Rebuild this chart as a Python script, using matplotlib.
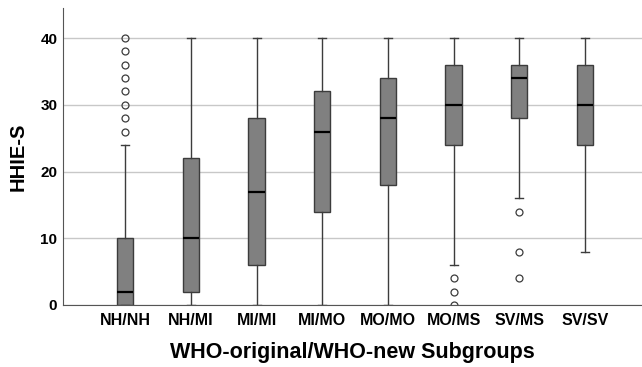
import matplotlib.pyplot as plt

plt.rcParams['font.family'] = ['Liberation Sans', 'DejaVu Sans']

# ============================================================
# DATA
# ============================================================
groups = ["NH/NH", "NH/MI", "MI/MI", "MI/MO", "MO/MO", "MO/MS", "SV/MS", "SV/SV"]
whislo = [0, 0, 0, 0, 0, 6, 16, 8]
q1 = [0, 2, 6, 14, 18, 24, 28, 24]
med = [2, 10, 17, 26, 28, 30, 34, 30]
q3 = [10, 22, 28, 32, 34, 36, 36, 36]
whishi = [24, 40, 40, 40, 40, 40, 40, 40]
fliers = [
    [26, 28, 30, 32, 34, 36, 38, 40],
    [],
    [],
    [],
    [],
    [4, 2, 0],
    [14, 8, 4],
    [],
]

stats = []
for i, g in enumerate(groups):
    stats.append({
        "label": g,
        "whislo": whislo[i],
        "q1": q1[i],
        "med": med[i],
        "q3": q3[i],
        "whishi": whishi[i],
        "fliers": fliers[i],
    })

# ============================================================
# FIGURE
# ============================================================
fig = plt.figure(figsize=(6.42, 3.67), dpi=100)
ax = fig.add_axes([0.098, 0.169, 0.902, 0.809])

ax.set_axisbelow(True)
ax.yaxis.grid(True, color="#c8c8c8", linewidth=1.0)

ax.bxp(
    stats,
    positions=range(1, len(groups) + 1),
    widths=0.25,
    patch_artist=True,
    showfliers=True,
    boxprops=dict(facecolor="#808080", edgecolor="#3c3c3c", linewidth=1.0),
    medianprops=dict(color="black", linewidth=1.6),
    whiskerprops=dict(color="#3c3c3c", linewidth=1.0),
    capprops=dict(color="#3c3c3c", linewidth=1.0),
    capwidths=0.12,
    flierprops=dict(marker="o", markersize=5, markerfacecolor="none",
                    markeredgecolor="#3c3c3c", markeredgewidth=0.9),
)

ax.set_xlim(0.05, 8.87)
ax.set_ylim(0, 44.5)
ax.set_yticks([0, 10, 20, 30, 40])

for side in ["top", "right"]:
    ax.spines[side].set_visible(False)
ax.spines["left"].set_color("#555555")
ax.spines["bottom"].set_color("#555555")

ax.tick_params(axis="both", length=0)
ax.tick_params(axis="x", pad=6, labelsize=11.5)
ax.tick_params(axis="y", pad=4, labelsize=11)
for lab in ax.get_xticklabels() + ax.get_yticklabels():
    lab.set_fontweight("bold")

ax.set_ylabel("HHIE-S", fontsize=14.5, fontweight="bold", labelpad=9)
ax.set_xlabel("WHO-original/WHO-new Subgroups", fontsize=15.5,
              fontweight="bold", labelpad=10)

fig.savefig("out.png", dpi=100)
